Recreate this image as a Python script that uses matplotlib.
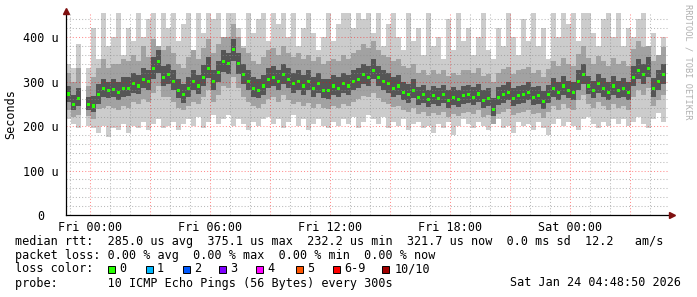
import numpy as np
import matplotlib
matplotlib.use("Agg")
import matplotlib.pyplot as plt
from matplotlib.patches import Rectangle

nan = np.nan

# ---------------- data (microseconds), 15-minute steps from Thu 22:48 ----------------
t_start = -1.2   # hours relative to Fri 00:00
step_h = 0.25

med = [272, 248, 262, nan, 248, 245, 270, 285, 280, 282,
       275, 285, 285, 295, 290, 305, 300, 330, 345, 310,
       315, 300, 280, 270, 285, 300, 290, 310, 330, 300,
       320, 345, 340, 372, 340, 315, 300, 285, 280, 290,
       305, 310, 300, 315, 305, 295, 300, 290, 300, 285,
       295, 280, 280, 290, 285, 295, 290, 300, 305, 315,
       310, 325, 310, 300, 295, 285, 290, 275, 270, 280,
       265, 270, 260, 268, 262, 270, 258, 265, 260, 268,
       270, 265, 272, 258, 262, 238, 265, 270, 275, 262,
       268, 270, 275, 265, 268, 255, 270, 285, 275, 290,
       280, 275, 300, 315, 290, 280, 295, 285, 275, 290,
       280, 285, 275, 310, 325, 315, 330, 285, 300, 315]

hi1 = [340, 330, 385, nan, 330, 420, 350, 460, 380, 400,
       460, 360, 420, 390, 460, 400, 440, 460, 380, 460,
       420, 460, 390, 430, 460, 370, 460, 410, 460, 440,
       460, 400, 460, 460, 420, 380, 460, 410, 440, 460,
       390, 460, 430, 460, 400, 460, 380, 420, 460, 410,
       370, 400, 460, 390, 430, 460, 460, 420, 460, 440,
       460, 410, 460, 380, 430, 460, 400, 370, 460, 390,
       420, 360, 460, 380, 400, 350, 440, 370, 460, 390,
       420, 360, 400, 460, 370, 350, 420, 380, 460, 400,
       360, 440, 390, 460, 380, 420, 350, 460, 400, 460,
       430, 460, 390, 460, 460, 410, 380, 440, 460, 400,
       460, 380, 420, 400, 440, 460, 380, 410, 360, 400]

lo1 = [215, 205, 195, nan, 200, 195, 185, 200, 175, 195,
       190, 205, 185, 200, 195, 210, 190, 205, 215, 195,
       200, 210, 190, 205, 215, 200, 220, 195, 210, 225,
       205, 215, 225, 200, 215, 205, 190, 210, 200, 215,
       220, 205, 215, 195, 210, 225, 200, 215, 190, 205,
       215, 200, 195, 210, 200, 215, 205, 220, 195, 210,
       225, 215, 205, 220, 195, 210, 200, 215, 190, 205,
       210, 195, 200, 185, 205, 195, 210, 180, 200, 215,
       205, 195, 210, 200, 190, 205, 215, 195, 200, 185,
       210, 200, 205, 190, 210, 195, 180, 205, 215, 200,
       210, 200, 190, 215, 220, 205, 195, 210, 200, 215,
       205, 215, 200, 210, 220, 205, 195, 215, 230, 210]

lo2 = [235, 220, 225, nan, 222, 215, 238, 240, 245, 240,
       235, 245, 240, 255, 250, 260, 255, 275, 290, 265,
       265, 255, 240, 235, 245, 255, 250, 265, 280, 255,
       270, 290, 285, 310, 285, 265, 255, 245, 240, 250,
       260, 265, 255, 270, 258, 250, 255, 245, 252, 240,
       250, 240, 238, 245, 240, 250, 245, 255, 260, 268,
       265, 275, 262, 255, 250, 242, 245, 235, 232, 240,
       228, 232, 222, 230, 225, 232, 220, 228, 222, 230,
       232, 228, 235, 220, 225, 205, 228, 232, 238, 225,
       230, 232, 236, 228, 230, 218, 232, 245, 236, 250,
       240, 236, 258, 270, 250, 240, 255, 245, 236, 250,
       240, 245, 236, 265, 280, 270, 285, 245, 258, 270]

hi2 = [320, 300, 330, nan, 290, 310, 330, 350, 330, 340,
       340, 350, 345, 360, 345, 380, 355, 395, 400, 370,
       380, 365, 340, 330, 355, 370, 350, 375, 395, 365,
       385, 410, 400, 430, 400, 375, 365, 345, 340, 355,
       370, 375, 360, 380, 365, 355, 365, 350, 360, 345,
       355, 340, 345, 350, 345, 360, 350, 365, 370, 385,
       375, 390, 370, 360, 355, 345, 350, 335, 330, 340,
       320, 325, 315, 325, 318, 325, 312, 320, 315, 325,
       325, 320, 330, 312, 318, 300, 320, 328, 332, 318,
       325, 328, 332, 320, 325, 310, 328, 345, 335, 352,
       340, 335, 362, 380, 352, 340, 358, 345, 335, 352,
       340, 345, 335, 372, 390, 378, 395, 345, 362, 378]

lo3 = [255, 235, 245, nan, 235, 232, 250, 265, 262, 265,
       258, 265, 268, 275, 272, 285, 280, 305, 320, 290,
       295, 280, 262, 252, 265, 282, 272, 290, 308, 280,
       300, 322, 318, 345, 318, 295, 282, 265, 262, 270,
       285, 290, 280, 295, 285, 275, 280, 270, 280, 265,
       275, 262, 260, 270, 265, 275, 270, 280, 285, 295,
       290, 305, 290, 280, 275, 265, 270, 258, 252, 262,
       248, 252, 242, 250, 245, 252, 240, 248, 242, 250,
       252, 248, 255, 240, 245, 222, 248, 252, 258, 245,
       250, 252, 258, 248, 250, 238, 252, 265, 258, 270,
       262, 258, 280, 295, 272, 262, 275, 265, 258, 270,
       262, 265, 258, 290, 305, 295, 310, 265, 280, 295]

hi3 = [290, 270, 285, nan, 265, 268, 295, 305, 300, 305,
       300, 310, 310, 320, 315, 330, 325, 355, 370, 335,
       340, 325, 305, 295, 310, 325, 315, 338, 355, 325,
       345, 370, 365, 395, 365, 340, 325, 310, 305, 315,
       330, 335, 325, 340, 330, 320, 325, 315, 325, 310,
       320, 305, 305, 315, 310, 320, 315, 325, 330, 340,
       335, 350, 335, 325, 320, 310, 315, 300, 295, 305,
       288, 292, 282, 290, 285, 292, 280, 288, 282, 290,
       292, 288, 295, 280, 285, 262, 288, 292, 298, 285,
       290, 292, 298, 288, 290, 278, 292, 308, 298, 312,
       302, 298, 325, 340, 312, 302, 318, 308, 298, 312,
       302, 308, 298, 335, 350, 340, 355, 308, 325, 340]

x_ticks = [0, 6, 12, 18, 24]
x_labels = ["Fri 00:00", "Fri 06:00", "Fri 12:00", "Fri 18:00", "Sat 00:00"]
y_ticks = [0, 100, 200, 300, 400]
y_labels = ["0  ", "100 u", "200 u", "300 u", "400 u"]

stats_line = "median rtt:  285.0 us avg  375.1 us max  232.2 us min  321.7 us now  0.0 ms sd  12.2   am/s"
loss_line = "packet loss: 0.00 % avg  0.00 % max  0.00 % min  0.00 % now"
probe_line = "probe:       10 ICMP Echo Pings (56 Bytes) every 300s"
date_text = "Sat Jan 24 04:48:50 2026"
loss_labels = ["0", "1", "2", "3", "4", "5", "6-9", "10/10"]
loss_colors = ["#26ff00", "#00b8ff", "#0059ff", "#7e00ff", "#ff00ff", "#ff5500", "#ff0000", "#a10000"]

# ---------------- figure ----------------
W, H = 697, 297
fig = plt.figure(figsize=(W / 100, H / 100), dpi=100)
fig.patch.set_facecolor("white")
FONT = "DejaVu Sans Mono"
FS = 8.5

ax = fig.add_axes([66 / W, 1 - 215 / H, 603 / W, 202 / H])
ax.set_facecolor("white")

t = t_start + step_h * np.arange(len(med))
med_a = np.array(med, float)
lo1_a, hi1_a = np.array(lo1, float), np.array(hi1, float)
lo2_a = np.maximum(np.array(lo2, float), lo1_a)
hi2_a = np.minimum(np.array(hi2, float), hi1_a)
lo3_a = np.maximum(np.array(lo3, float), lo2_a)
hi3_a = np.minimum(np.array(hi3, float), hi2_a)

for lo, hi, col in [(lo1_a, hi1_a, "#cccccc"), (lo2_a, hi2_a, "#a2a2a2"), (lo3_a, hi3_a, "#555555")]:
    ax.bar(t, hi - lo, bottom=lo, width=step_h, align="edge", color=col,
           linewidth=0, antialiased=False, zorder=1)

ax.bar(t + 0.05, 7.0, bottom=med_a - 3.5, width=0.15, align="edge", color="#26ff00",
       linewidth=0, antialiased=False, zorder=3)

ax.set_xlim(t_start, t_start + 603 / 20)
ax.set_ylim(0, 454)

# grid (drawn on top, semi transparent like rrdtool)
for v in np.arange(20, 454, 20):
    if v % 100 == 0:
        continue
    ax.axhline(v, color="#8c8c8c", alpha=0.6, lw=0.75, ls=(0, (1, 2)), zorder=4)
for v in range(-1, 29):
    if v % 3 == 0:
        continue
    ax.axvline(v, color="#8c8c8c", alpha=0.6, lw=0.75, ls=(0, (1, 2)), zorder=4)
for v in [100, 200, 300, 400]:
    ax.axhline(v, color="#ff0000", alpha=0.45, lw=0.75, ls=(0, (1, 2)), zorder=5)
for v in range(0, 29, 3):
    ax.axvline(v, color="#ff0000", alpha=0.45, lw=0.75, ls=(0, (1, 2)), zorder=5)

for s in ["top", "right"]:
    ax.spines[s].set_visible(False)
for s in ["left", "bottom"]:
    ax.spines[s].set_color("#000000")
    ax.spines[s].set_linewidth(0.9)
    ax.spines[s].set_zorder(6)

ax.set_xticks(x_ticks)
ax.set_xticklabels(x_labels, fontfamily=FONT, fontsize=FS)
ax.set_yticks(y_ticks)
ax.set_yticklabels(y_labels, fontfamily=FONT, fontsize=FS)
ax.tick_params(axis="x", length=0, pad=4)
ax.tick_params(axis="y", length=0, pad=5)

# axis arrows
ax.plot([0], [1.012], marker="^", ms=4.5, color="#7f1010", transform=ax.transAxes, clip_on=False, zorder=7)
ax.plot([1.0045], [0], marker=">", ms=4.5, color="#7f1010", transform=ax.transAxes, clip_on=False, zorder=7)


def ftext(x, y, s, **kw):
    kw.setdefault("fontfamily", FONT)
    kw.setdefault("fontsize", FS)
    fig.text(x / W, 1 - y / H, s, **kw)


ftext(11, 114, "Seconds", rotation=90, ha="center", va="center")
ftext(688, 4, "RRDTOOL / TOBI OETIKER", rotation=270, ha="center", va="top",
      fontsize=6.2, color="#b0b0b0")

ftext(15, 241, stats_line, ha="left", va="center")
ftext(15, 255, loss_line, ha="left", va="center")
ftext(15, 269, "loss color:", ha="left", va="center")
ftext(15, 283, probe_line, ha="left", va="center")
ftext(681, 283, date_text, ha="right", va="center")

box_x = [108, 146, 183, 219, 256, 296, 333, 382]
lab_x = [119, 157, 194, 230, 267, 307, 344, 395]
for bx, lx, lab, col in zip(box_x, lab_x, loss_labels, loss_colors):
    fig.add_artist(Rectangle((bx / W, 1 - 273 / H), 7 / W, 7 / H, transform=fig.transFigure,
                             facecolor=col, edgecolor="#000000", linewidth=0.7))
    ftext(lx, 269, lab, ha="left", va="center")

fig.savefig("out.png", dpi=100, facecolor="white")
